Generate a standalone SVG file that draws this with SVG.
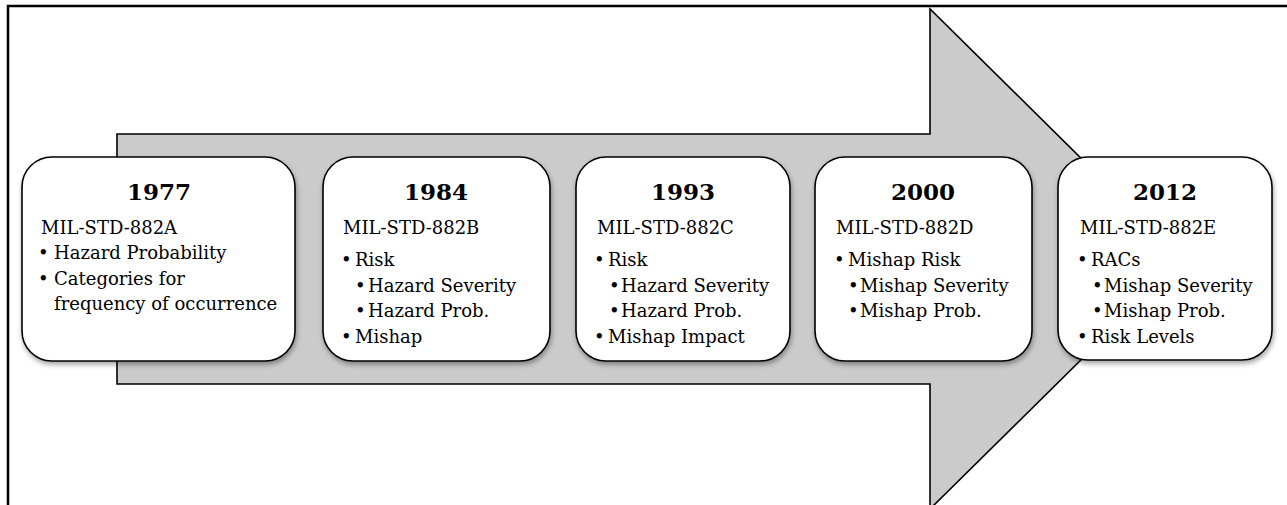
<svg xmlns="http://www.w3.org/2000/svg" width="1287" height="505" viewBox="0 0 1287 505">
<defs>
<filter id="sh" x="-10%" y="-10%" width="120%" height="130%">
<feDropShadow dx="1" dy="3" stdDeviation="2.5" flood-color="#000" flood-opacity="0.35"/>
</filter>
</defs>
<style>
.frame{fill:none;stroke:#000;stroke-width:2.5}
.arrow{fill:#cbcbcb;stroke:#000;stroke-width:1.6;stroke-linejoin:miter}
.box{fill:#fff;stroke:#000;stroke-width:1.6;filter:url(#sh)}
.yr{font-family:"DejaVu Serif","Liberation Serif",serif;font-weight:bold;font-size:23px;fill:#000;text-anchor:middle}
.t{font-family:"DejaVu Serif","Liberation Serif",serif;font-size:18px;fill:#000}
.b{font-family:"DejaVu Serif","Liberation Serif",serif;font-size:18px;fill:#000}
</style>
<rect width="1287" height="505" fill="#fff"/>
<path class="frame" d="M8,510 L8,6 L1292,6"/>
<g id="connectors">
<path class="arrow" d="M117,134 L930,134 L930,9 L1183,259 L930,509 L930,384 L117,384 Z"/>
</g>
<g id="n1977">
<rect class="box" x="22" y="157" width="273" height="204" rx="30"/>
<text class="yr" x="159" y="200">1977</text>
<text class="t" x="41" y="234">MIL-STD-882A</text>
<text class="b" x="38" y="259">•</text><text class="t" x="54" y="259">Hazard Probability</text>
<text class="b" x="38" y="285">•</text><text class="t" x="54" y="285">Categories for</text>
<text class="t" x="54" y="310">frequency of occurrence</text>
</g>
<g id="n1984">
<rect class="box" x="323" y="157" width="227" height="204" rx="30"/>
<text class="yr" x="436" y="200">1984</text>
<text class="t" x="343" y="234">MIL-STD-882B</text>
<text class="b" x="341" y="266">•</text><text class="t" x="355" y="266">Risk</text>
<text class="b" x="355" y="292">•</text><text class="t" x="368" y="292">Hazard Severity</text>
<text class="b" x="355" y="317">•</text><text class="t" x="368" y="317">Hazard  Prob.</text>
<text class="b" x="341" y="343">•</text><text class="t" x="355" y="343">Mishap</text>
</g>
<g id="n1993">
<rect class="box" x="576" y="157" width="214" height="204" rx="30"/>
<text class="yr" x="683" y="200">1993</text>
<text class="t" x="597" y="234">MIL-STD-882C</text>
<text class="b" x="594" y="266">•</text><text class="t" x="608" y="266">Risk</text>
<text class="b" x="609" y="292">•</text><text class="t" x="621" y="292">Hazard Severity</text>
<text class="b" x="609" y="317">•</text><text class="t" x="621" y="317">Hazard Prob.</text>
<text class="b" x="594" y="343">•</text><text class="t" x="608" y="343">Mishap Impact</text>
</g>
<g id="n2000">
<rect class="box" x="815" y="157" width="217" height="204" rx="30"/>
<text class="yr" x="923" y="200">2000</text>
<text class="t" x="836" y="234">MIL-STD-882D</text>
<text class="b" x="834" y="266">•</text><text class="t" x="848" y="266">Mishap Risk</text>
<text class="b" x="848" y="292">•</text><text class="t" x="860" y="292">Mishap Severity</text>
<text class="b" x="848" y="317">•</text><text class="t" x="860" y="317">Mishap Prob.</text>
</g>
<g id="n2012">
<rect class="box" x="1058" y="157" width="214" height="203" rx="30"/>
<text class="yr" x="1165" y="200">2012</text>
<text class="t" x="1080" y="234">MIL-STD-882E</text>
<text class="b" x="1077" y="266">•</text><text class="t" x="1091" y="266">RACs</text>
<text class="b" x="1092" y="292">•</text><text class="t" x="1104" y="292">Mishap Severity</text>
<text class="b" x="1092" y="317">•</text><text class="t" x="1104" y="317">Mishap Prob.</text>
<text class="b" x="1077" y="343">•</text><text class="t" x="1091" y="343">Risk Levels</text>
</g>
</svg>
